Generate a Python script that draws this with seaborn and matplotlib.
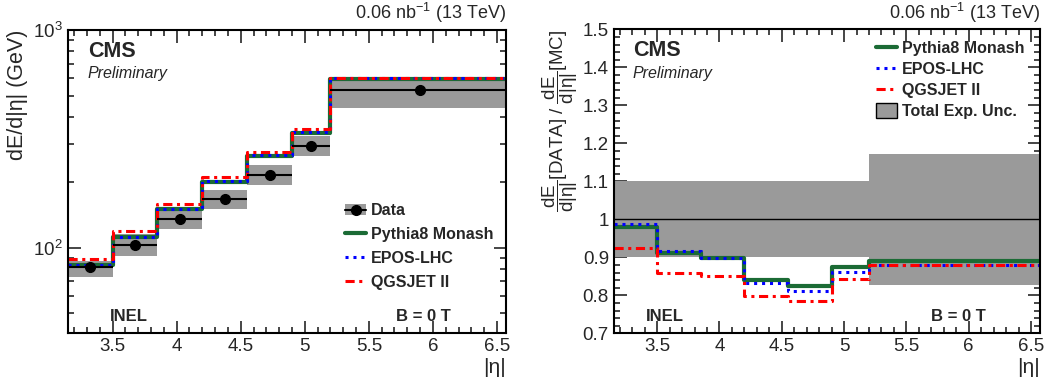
import matplotlib
matplotlib.use("Agg")
import matplotlib.pyplot as plt
from matplotlib.patches import Patch
from matplotlib.lines import Line2D
from matplotlib.ticker import MultipleLocator, FuncFormatter, LogLocator
import numpy as np
import pandas as pd
import seaborn as sns

# bins in |eta|
edges = [3.152, 3.5, 3.85, 4.2, 4.55, 4.9, 5.2, 6.6]

# left panel: dE/d|eta| (GeV)
data_val = [81.8, 102.5, 135.3, 167.9, 216.0, 293.6, 528.0]
data_lo = [73.3, 91.6, 121.4, 150.0, 193.7, 263.0, 436.0]
data_hi = [86.8, 115.0, 151.0, 184.5, 238.7, 326.4, 596.0]
pythia_abs = [83.5, 112.3, 150.0, 200.0, 264.0, 335.6, 597.0]
epos_abs = [82.8, 111.8, 150.0, 201.5, 266.0, 341.0, 600.0]
qgsjet_abs = [88.7, 119.7, 159.0, 210.8, 275.6, 351.0, 604.0]

# right panel: data / MC
pythia_ratio = [0.981, 0.912, 0.899, 0.840, 0.824, 0.875, 0.891]
epos_ratio = [0.989, 0.917, 0.899, 0.833, 0.811, 0.861, 0.880]
qgsjet_ratio = [0.924, 0.860, 0.850, 0.798, 0.786, 0.842, 0.880]
unc_lo = [0.90, 0.90, 0.90, 0.90, 0.90, 0.90, 0.828]
unc_hi = [1.10, 1.10, 1.10, 1.10, 1.10, 1.10, 1.172]

models = ["Pythia8 Monash", "EPOS-LHC", "QGSJET II"]
colors = {"Pythia8 Monash": "#1b6b35", "EPOS-LHC": "#0000ff", "QGSJET II": "#ff0000"}
styles = {"Pythia8 Monash": dict(lw=3.0, ls="-"),
          "EPOS-LHC": dict(lw=2.2, ls=(0, (1, 1.6))),
          "QGSJET II": dict(lw=2.2, ls=(0, (3, 1.5, 1, 1.5)))}
gray = "#9a9a9a"

sns.set_style("ticks")
plt.rcParams["font.family"] = ["Liberation Sans", "DejaVu Sans"]
plt.rcParams["mathtext.fontset"] = "custom"
plt.rcParams["mathtext.rm"] = "Liberation Sans"
plt.rcParams["mathtext.it"] = "Liberation Sans:italic"
plt.rcParams["mathtext.bf"] = "Liberation Sans:bold"


def step_frame(vals):
    rows = []
    for m, v in vals.items():
        for x, y in zip(edges, list(v) + [v[-1]]):
            rows.append({"eta": x, "val": y, "model": m})
    return pd.DataFrame(rows)


def draw_steps(ax, vals):
    df = step_frame(vals)
    for m in models:
        sub = df[df.model == m]
        sns.lineplot(data=sub, x="eta", y="val", ax=ax, estimator=None, sort=False,
                     drawstyle="steps-post", color=colors[m], legend=False, **styles[m])


def style_axes(ax):
    ax.tick_params(which="both", direction="in", top=True, right=True, width=1.2, labelsize=13.5)
    ax.tick_params(which="major", length=9)
    ax.tick_params(which="minor", length=4.5)
    for s in ax.spines.values():
        s.set_linewidth(1.5)
        s.set_color("black")
    ax.xaxis.set_major_locator(MultipleLocator(0.5))
    ax.xaxis.set_minor_locator(MultipleLocator(0.1))
    ax.xaxis.set_major_formatter(FuncFormatter(lambda v, p: "%g" % v))
    ax.set_xlim(3.152, 6.57)
    ax.set_xlabel("|η|", loc="right", fontsize=15, labelpad=2)
    ax.text(1.0, 1.015, r"0.06 nb$^{\mathregular{-1}}$ (13 TeV)", transform=ax.transAxes,
            ha="right", va="bottom", fontsize=13)
    ax.text(0.045, 0.93, "CMS", transform=ax.transAxes, fontsize=15.5, fontweight="bold", va="center")
    ax.text(0.045, 0.855, "Preliminary", transform=ax.transAxes, fontsize=11.5, style="italic", va="center")


fig = plt.figure(figsize=(10.62, 3.78), dpi=100)
ax1 = fig.add_axes([0.064, 0.119, 0.4124, 0.8016])
ax2 = fig.add_axes([0.578, 0.118, 0.401, 0.8044])

# ---- left panel ----
lefts = np.array(edges[:-1])
widths = np.diff(edges)
centers = lefts + widths / 2
ax1.bar(lefts, np.array(data_hi) - np.array(data_lo), bottom=data_lo, width=widths,
        align="edge", color=gray, lw=0, zorder=1)
ax1.errorbar(centers, data_val, xerr=widths / 2, fmt="o", color="black", ms=7, lw=1.5,
             capsize=0, zorder=5)
draw_steps(ax1, {"Pythia8 Monash": pythia_abs, "EPOS-LHC": epos_abs, "QGSJET II": qgsjet_abs})
ax1.set_yscale("log")
ax1.set_ylim(40.5, 1000)
ax1.yaxis.set_minor_locator(LogLocator(base=10, subs=np.arange(2, 10)))
style_axes(ax1)
ax1.set_ylabel("dE/d|η| (GeV)", loc="top", fontsize=15.5)
ax1.text(0.095, 0.055, "INEL", transform=ax1.transAxes, fontsize=12, fontweight="bold", va="center")
ax1.text(0.75, 0.055, "B = 0 T", transform=ax1.transAxes, fontsize=12, fontweight="bold", va="center")

h_data = (Patch(facecolor=gray, lw=0),
          Line2D([], [], color="black", marker="o", ms=7, lw=1.5))
h_models = [Line2D([], [], color=colors[m], **styles[m]) for m in models]
ax1.legend([h_data] + h_models, ["Data"] + models, loc="upper left", bbox_to_anchor=(0.615, 0.455),
           frameon=False, prop={"weight": "bold", "size": 11.5}, handlelength=1.3,
           handletextpad=0.3, labelspacing=0.56, borderpad=0)

# ---- right panel ----
ax2.bar(lefts, np.array(unc_hi) - np.array(unc_lo), bottom=unc_lo, width=widths,
        align="edge", color=gray, lw=0, zorder=1)
ax2.axhline(1.0, color="black", lw=1.0, zorder=2)
draw_steps(ax2, {"Pythia8 Monash": pythia_ratio, "EPOS-LHC": epos_ratio, "QGSJET II": qgsjet_ratio})
ax2.set_ylim(0.7, 1.5)
ax2.yaxis.set_major_locator(MultipleLocator(0.1))
ax2.yaxis.set_minor_locator(MultipleLocator(0.02))
ax2.yaxis.set_major_formatter(FuncFormatter(lambda v, p: "%g" % round(v, 2)))
style_axes(ax2)
ax2.set_ylabel(r"$\dfrac{\mathregular{dE}}{\mathregular{d|\eta|}}$[DATA] / $\dfrac{\mathregular{dE}}{\mathregular{d|\eta|}}$[MC]",
               loc="top", fontsize=13.5, labelpad=2)
ax2.text(0.075, 0.055, "INEL", transform=ax2.transAxes, fontsize=12, fontweight="bold", va="center")
ax2.text(0.745, 0.055, "B = 0 T", transform=ax2.transAxes, fontsize=12, fontweight="bold", va="center")

h_unc = Patch(facecolor=gray, edgecolor="black", lw=1)
ax2.legend(h_models + [h_unc], models + ["Total Exp. Unc."], loc="upper left",
           bbox_to_anchor=(0.598, 0.99), frameon=False, prop={"weight": "bold", "size": 11.5},
           handlelength=1.3, handleheight=1.1, handletextpad=0.3, labelspacing=0.3, borderpad=0)

fig.savefig("out.png", dpi=100)
